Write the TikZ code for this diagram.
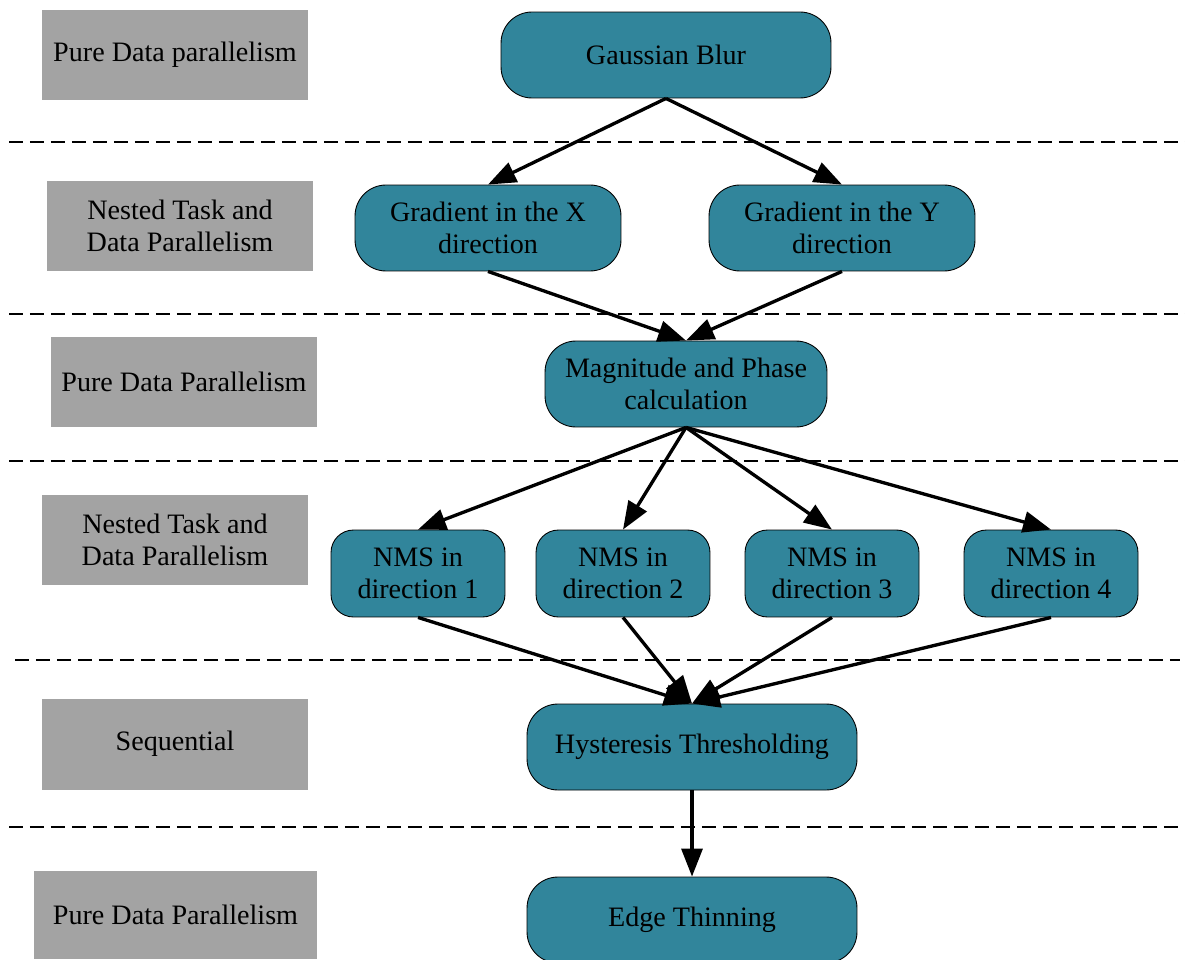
\documentclass[tikz,border=0pt]{standalone}
\usepackage{fontspec}
\setmainfont{Liberation Serif}
\usepackage{xcolor}
\usepackage{tikz}
\usetikzlibrary{arrows.meta, positioning}

\definecolor{stagecol}{RGB}{49,133,155}
\definecolor{levelcol}{RGB}{163,163,163}

\begin{document}
\begin{tikzpicture}[x=0.02cm, y=-0.02cm,
    >={Triangle[length=0.56cm, width=0.42cm]},
    stage/.style={draw=black, line width=0.5pt, fill=stagecol, rounded corners=0.62cm,
        align=center, inner sep=0pt, font=\fontsize{16}{18.5}\selectfont},
    level/.style={fill=levelcol, align=center, inner sep=0pt, minimum width=5.32cm,
        minimum height=1.82cm, font=\fontsize{16}{18.5}\selectfont},
    flow/.style={->, line width=1.9pt},
    sep/.style={dash pattern=on 0.28cm off 0.14cm, line width=1.1pt}]
    \useasboundingbox (0,0) rectangle (1185,959);

    % Trennlinien zwischen den Ebenen
    \foreach \y/\a/\b in {142/9/1185, 314/9/1185, 461/9/1185, 660/15/1180, 827/9/1180} {
        \draw[sep] (\a,\y) -- (\b,\y);
    }

    % Ebenen (links)
    \node[level] (lvl1) at (175,55) {Pure Data parallelism};
    \node[level] (lvl2) at (180,226) {Nested Task and\\Data Parallelism};
    \node[level] (lvl3) at (184,382) {Pure Data Parallelism};
    \node[level] (lvl4) at (175,540) {Nested Task and\\Data Parallelism};
    \node[level] (lvl5) at (175,744) {Sequential};
    \node[level, minimum width=5.66cm, minimum height=1.76cm] (lvl6) at (175.5,914.5) {Pure Data Parallelism};

    % Verarbeitungsschritte
    \node[stage, minimum width=6.6cm, minimum height=1.72cm] (gauss) at (666,55) {Gaussian Blur};
    \node[stage, minimum width=5.32cm, minimum height=1.72cm] (gradx) at (488,228) {Gradient in the X\\direction};
    \node[stage, minimum width=5.32cm, minimum height=1.72cm] (grady) at (842,228) {Gradient in the Y\\direction};
    \node[stage, minimum width=5.64cm, minimum height=1.72cm] (magph) at (686,384) {Magnitude and Phase\\calculation};
    \foreach \i/\x in {1/418, 2/623, 3/832, 4/1051} {
        \node[stage, minimum width=3.48cm, minimum height=1.74cm, rounded corners=0.45cm]
            (nms\i) at (\x,573.5) {NMS in\\direction \i};
    }
    \node[stage, minimum width=6.6cm, minimum height=1.72cm] (hyst) at (692,747) {Hysteresis Thresholding};
    \node[stage, minimum width=6.6cm, minimum height=1.72cm] (thin) at (692,920) {Edge Thinning};

    % Pfeile
    \draw[flow] (gauss.south) -- (gradx.north);
    \draw[flow] (gauss.south) -- (grady.north);
    \draw[flow] (gradx.south) -- (magph.north);
    \draw[flow] (grady.south) -- (magph.north);
    \foreach \i in {1,...,4} {
        \draw[flow] (magph.south) -- (nms\i.north);
        \draw[flow] (nms\i.south) -- (hyst.north);
    }
    \draw[flow] (hyst.south) -- (thin.north);

\end{tikzpicture}
\end{document}
